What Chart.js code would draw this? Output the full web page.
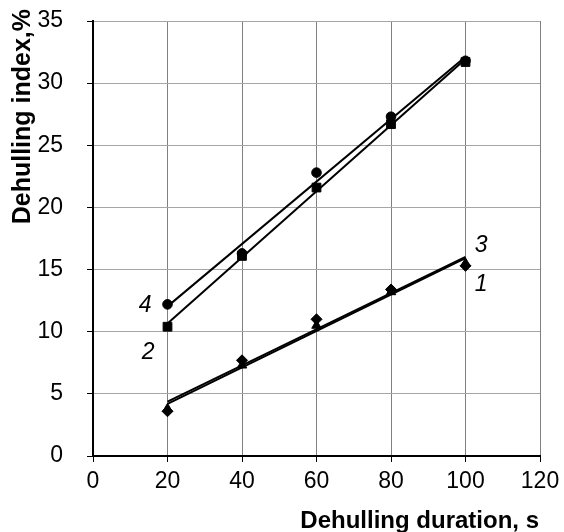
<!DOCTYPE html>
<html>
<head>
<meta charset="utf-8">
<style>
  html, body { margin: 0; padding: 0; background: #fff; }
  #wrap { width: 564px; height: 532px; }
</style>
<script src="https://cdn.jsdelivr.net/npm/chart.js@4.4.1/dist/chart.umd.min.js"></script>
</head>
<body>
<div id="wrap"><canvas id="chart" width="564" height="532"></canvas></div>
<script>
// durations, s
const durations = [20, 40, 60, 80, 100];

// dehulling index, %
const series1 = [3.6, 7.7, 11.0, 13.4, 15.3];   // diamonds
const series2 = [10.4, 16.1, 21.6, 26.7, 31.7]; // squares
const series3 = [3.8, 7.3, 10.5, 13.2, 15.5];   // triangles
const series4 = [12.2, 16.3, 22.8, 27.3, 31.8]; // circles

const markers = ['rectRot', 'rect', 'triangle', 'circle'];
const markerRadius = [5.5, 6.2, 5.5, 4.8];

const curveLabels = ['1', '2', '3', '4'];
const labelX = [104.2, 14.8, 104.2, 14.0];
const labelY = [13.8, 8.3, 16.9, 12.1];

const xTicks = [0, 20, 40, 60, 80, 100, 120];
const yTicks = [0, 5, 10, 15, 20, 25, 30, 35];

// least squares line, evaluated at first and last duration
function trend(xs, ys) {
    const n = xs.length;
    const mx = xs.reduce((a, b) => a + b, 0) / n;
    const my = ys.reduce((a, b) => a + b, 0) / n;
    let sxy = 0, sxx = 0;
    for (let i = 0; i < n; i++) {
        sxy += (xs[i] - mx) * (ys[i] - my);
        sxx += (xs[i] - mx) * (xs[i] - mx);
    }
    const k = sxy / sxx;
    const b = my - k * mx;
    const x0 = xs[0], x1 = xs[n - 1];
    return [{ x: x0, y: k * x0 + b }, { x: x1, y: k * x1 + b }];
}

const allSeries = [series1, series2, series3, series4];
const datasets = [];

allSeries.forEach((s, i) => {
    datasets.push({
        label: 'trend ' + curveLabels[i],
        data: trend(durations, s),
        showLine: true,
        borderColor: '#000',
        borderWidth: 2,
        pointRadius: 0,
        order: 2
    });
});

allSeries.forEach((s, i) => {
    datasets.push({
        label: 'series ' + curveLabels[i],
        data: durations.map((x, j) => ({ x: x, y: s[j] })),
        showLine: false,
        pointStyle: markers[i],
        pointRadius: markerRadius[i],
        backgroundColor: '#000',
        borderColor: '#000',
        borderWidth: 1,
        order: 1
    });
});

const FONT = '"Liberation Sans", Arial, sans-serif';

const curveLabelPlugin = {
    id: 'curveLabels',
    afterDatasetsDraw(chart) {
        const { ctx, scales } = chart;
        ctx.save();
        ctx.fillStyle = '#000';
        ctx.font = 'italic 23px ' + FONT;
        ctx.textAlign = 'center';
        ctx.textBaseline = 'middle';
        curveLabels.forEach((t, i) => {
            ctx.fillText(t, scales.x.getPixelForValue(labelX[i]), scales.y.getPixelForValue(labelY[i]));
        });
        ctx.restore();
    }
};

const axisTitlePlugin = {
    id: 'axisTitles',
    afterDraw(chart) {
        const { ctx } = chart;
        ctx.save();
        ctx.fillStyle = '#000';
        ctx.textBaseline = 'middle';
        ctx.textAlign = 'right';
        ctx.font = 'bold 24px ' + FONT;
        ctx.fillText('Dehulling duration, s', 539, 521);
        ctx.translate(23, 9);
        ctx.rotate(-Math.PI / 2);
        ctx.font = 'bold 25px ' + FONT;
        ctx.fillText('Dehulling index,%', 0, 0);
        ctx.restore();
    }
};

new Chart(document.getElementById('chart'), {
    type: 'scatter',
    data: { datasets: datasets },
    options: {
        responsive: false,
        animation: false,
        layout: { padding: { top: 21, right: 24, left: 0, bottom: 0 } },
        plugins: {
            legend: { display: false },
            tooltip: { enabled: false }
        },
        scales: {
            x: {
                type: 'linear',
                min: 0,
                max: 120,
                afterBuildTicks: (s) => { s.ticks = xTicks.map(v => ({ value: v })); },
                afterFit: (s) => { s.height = 76; s.paddingLeft = 0; s.paddingRight = 0; },
                grid: {
                    color: (c) => c.tick && c.tick.value === 0 ? 'rgba(0,0,0,0)' : '#808080',
                    lineWidth: 1,
                    tickLength: 6,
                    tickColor: '#000'
                },
                border: { color: '#000', width: 2 },
                ticks: { color: '#000', font: { family: FONT, size: 23 }, padding: 6 }
            },
            y: {
                type: 'linear',
                min: 0,
                max: 35,
                afterBuildTicks: (s) => { s.ticks = yTicks.map(v => ({ value: v })); },
                afterFit: (s) => { s.width = 93; s.paddingTop = 0; s.paddingBottom = 0; },
                grid: {
                    color: (c) => c.tick && c.tick.value === 0 ? 'rgba(0,0,0,0)' : '#a6a6a6',
                    lineWidth: 1,
                    tickLength: 6,
                    tickColor: '#000'
                },
                border: { color: '#000', width: 2 },
                ticks: { color: '#000', font: { family: FONT, size: 23 }, padding: 24 }
            }
        }
    },
    plugins: [curveLabelPlugin, axisTitlePlugin]
});
</script>
</body>
</html>
